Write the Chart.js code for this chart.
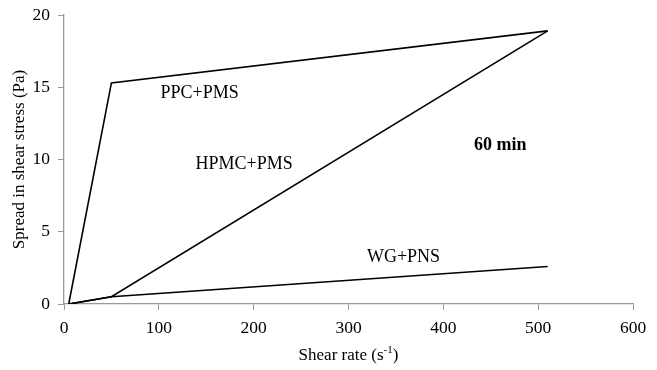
<!DOCTYPE html>
<html>
<head>
<meta charset="utf-8">
<script src="https://cdn.jsdelivr.net/npm/chart.js@4.4.0/dist/chart.umd.min.js"></script>
<style>
  html, body { margin: 0; padding: 0; background: #fff; }
  #wrap { width: 657px; height: 370px; }
</style>
</head>
<body>
<div id="wrap"><canvas id="spreadChart"></canvas></div>
<script>
// Shear rate points (s-1) and the spread in shear stress (Pa) of each mix
const shearRate = [5, 50, 510];
const ppcPms = [0, 15.3, 18.9];
const hpmcPms = [0, 0.5, 18.9];
const wgPns = [0, 0.5, 2.6];

// Curve names and the time tag, placed in data units
const noteText = ['PPC+PMS', 'HPMC+PMS', 'WG+PNS', '60 min'];
const noteX = [143, 190, 358, 460];
const noteY = [14.6, 9.7, 3.2, 11];
const noteBold = [false, false, false, true];

const xTicks = [0, 100, 200, 300, 400, 500, 600];
const yTicks = [0, 5, 10, 15, 20];

const serif = '"Liberation Serif", "Times New Roman", serif';
const axisGrey = '#9a9a9a';

function toPoints(ys) {
  return shearRate.map((x, i) => ({ x: x, y: ys[i] }));
}

function lineSet(label, ys) {
  return {
    label: label,
    data: toPoints(ys),
    showLine: true,
    borderColor: '#000',
    borderWidth: 1.6,
    pointRadius: 0,
    tension: 0
  };
}

// Text on the plot plus the x title with its superscript
const plotText = {
  id: 'plotText',
  afterDatasetsDraw(chart) {
    const { ctx, scales: { x, y }, chartArea } = chart;
    ctx.save();
    ctx.fillStyle = '#000';
    ctx.textAlign = 'center';
    ctx.textBaseline = 'middle';
    noteText.forEach((t, i) => {
      ctx.font = (noteBold[i] ? 'bold ' : '') + '18px ' + serif;
      ctx.fillText(t, x.getPixelForValue(noteX[i]), y.getPixelForValue(noteY[i]));
    });

    const main = 'Shear rate (s';
    const sup = '-1';
    const close = ')';
    ctx.textAlign = 'left';
    ctx.textBaseline = 'alphabetic';
    ctx.font = '17px ' + serif;
    const w1 = ctx.measureText(main).width;
    const w3 = ctx.measureText(close).width;
    ctx.font = '11px ' + serif;
    const w2 = ctx.measureText(sup).width;
    const cx = (chartArea.left + chartArea.right) / 2;
    let px = cx - (w1 + w2 + w3) / 2;
    const base = 360;
    ctx.font = '17px ' + serif;
    ctx.fillText(main, px, base);
    px += w1;
    ctx.font = '11px ' + serif;
    ctx.fillText(sup, px, base - 7);
    px += w2;
    ctx.font = '17px ' + serif;
    ctx.fillText(close, px, base);
    ctx.restore();
  }
};

new Chart(document.getElementById('spreadChart'), {
  type: 'scatter',
  data: {
    datasets: [
      lineSet('PPC+PMS', ppcPms),
      lineSet('HPMC+PMS', hpmcPms),
      lineSet('WG+PNS', wgPns)
    ]
  },
  options: {
    responsive: true,
    maintainAspectRatio: false,
    animation: false,
    layout: { padding: { top: 15, right: 24, left: 0, bottom: 0 } },
    plugins: {
      legend: { display: false },
      tooltip: { enabled: false }
    },
    scales: {
      x: {
        type: 'linear',
        min: 0,
        max: 600,
        afterBuildTicks: s => { s.ticks = xTicks.map(v => ({ value: v })); },
        afterFit: s => { s.height = 66; },
        grid: { drawOnChartArea: false, drawTicks: true, tickLength: 6, color: axisGrey },
        border: { display: true, color: axisGrey, width: 1.3 },
        ticks: { color: '#000', padding: 8, maxRotation: 0, font: { family: serif, size: 17.5 } }
      },
      y: {
        type: 'linear',
        min: 0,
        max: 20,
        afterBuildTicks: s => { s.ticks = yTicks.map(v => ({ value: v })); },
        afterFit: s => { s.width = 64; s.paddingTop = 0; s.paddingBottom = 0; },
        grid: { drawOnChartArea: false, drawTicks: true, tickLength: 6, color: axisGrey },
        border: { display: true, color: axisGrey, width: 1.3 },
        title: {
          display: true,
          text: 'Spread in shear stress (Pa)',
          color: '#000',
          padding: { top: 9, bottom: 0 },
          font: { family: serif, size: 17 }
        },
        ticks: { color: '#000', padding: 8, font: { family: serif, size: 17.5 } }
      }
    }
  },
  plugins: [plotText]
});
</script>
</body>
</html>
